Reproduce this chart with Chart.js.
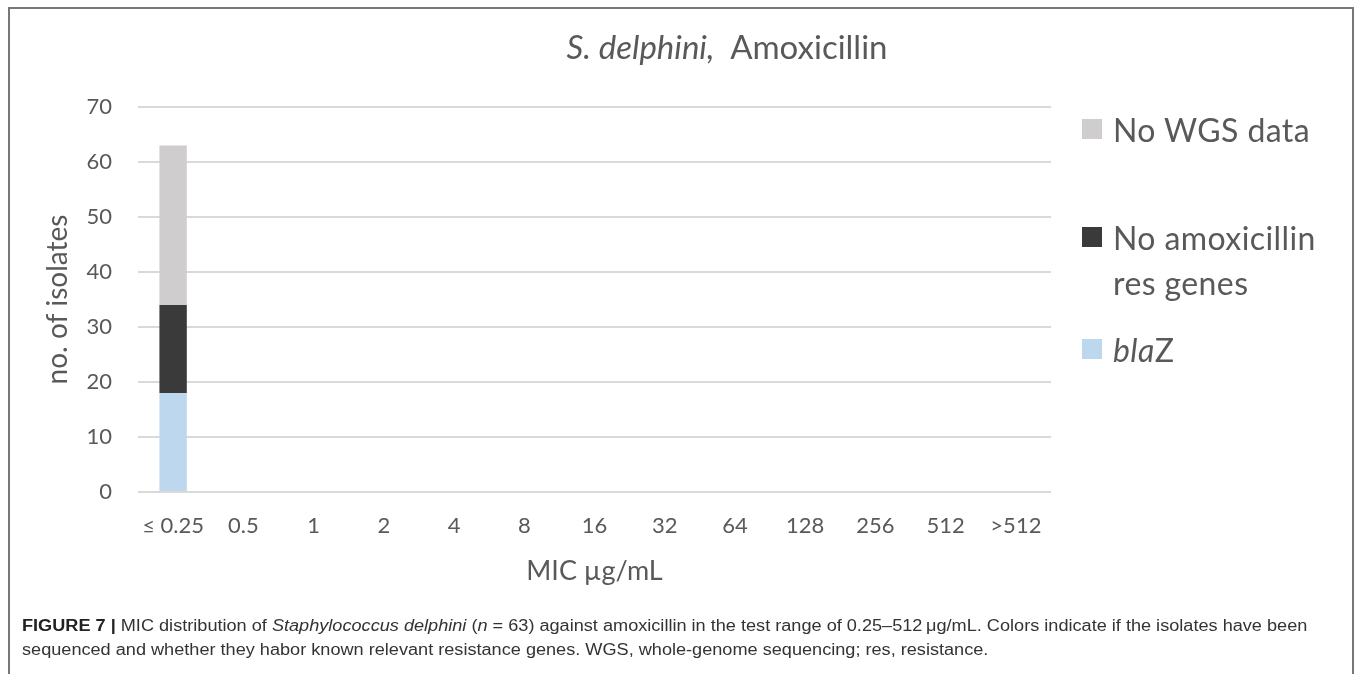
<!DOCTYPE html>
<html>
<head>
<meta charset="utf-8">
<script src="https://cdn.jsdelivr.net/npm/chart.js@4/dist/chart.umd.min.js"></script>
<style>
  html, body { margin: 0; padding: 0; background: #fff; }
  #wrap { position: relative; width: 1360px; height: 674px; overflow: hidden; }
  #frame { position: absolute; left: 8px; top: 7px; width: 1346px; height: 700px; border: 2px solid #777; box-sizing: border-box; }
  #c { position: absolute; left: 0; top: 0; }
  #title { position: absolute; left: 0; width: 1454px; top: 26px; text-align: center; font-family: Lato, "Open Sans", sans-serif; font-size: 33px; color: #595959; }
  .leg { position: absolute; left: 1082px; font-family: Lato, "Open Sans", sans-serif; font-size: 32px; letter-spacing: 0.4px; color: #595959; line-height: 45px; }
  .sw { position: absolute; left: 0; width: 20px; height: 20px; }
  .lt { position: absolute; left: 31px; white-space: nowrap; }
  #cap { position: absolute; left: 22px; top: 614px; white-space: nowrap; font-family: "Liberation Sans", Arial, sans-serif; font-size: 16px; line-height: 24px; color: #333; transform: scaleX(1.133); transform-origin: 0 0; }
</style>
</head>
<body>
<div id="wrap">
  <div id="frame"></div>
  <canvas id="c" width="1360" height="674"></canvas>
  <div id="title"><i>S. delphini,</i>&nbsp; Amoxicillin</div>
  <div id="legend"></div>
  <div id="cap"><b style="color:#222">FIGURE 7 |</b> MIC distribution of <i>Staphylococcus delphini</i> (<i>n</i> = 63) against amoxicillin in the test range of 0.25–512&thinsp;μg/mL. Colors indicate if the isolates have been<br>sequenced and whether they habor known relevant resistance genes. WGS, whole-genome sequencing; res, resistance.</div>
</div>
<script>
const categories = ["\u2264 0.25", "0.5", "1", "2", "4", "8", "16", "32", "64", "128", "256", "512", ">512"];
const blaZ       = [18, 0, 0, 0, 0, 0, 0, 0, 0, 0, 0, 0, 0];
const noAmoxRes  = [16, 0, 0, 0, 0, 0, 0, 0, 0, 0, 0, 0, 0];
const noWGS      = [29, 0, 0, 0, 0, 0, 0, 0, 0, 0, 0, 0, 0];
const yTicks = [0, 10, 20, 30, 40, 50, 60, 70];

const colors = { blaZ: "#BDD7EE", noAmox: "#3A3A3A", noWGS: "#CFCDCD" };

// legend (HTML, mixed italics)
const legendItems = [
  { color: colors.noWGS, html: "No WGS data", top: 107 },
  { color: colors.noAmox, html: "No amoxicillin<br>res genes", top: 215 },
  { color: colors.blaZ, html: "<i>bla</i>Z", top: 327 }
];
const legEl = document.getElementById("legend");
legendItems.forEach(it => {
  const d = document.createElement("div");
  d.className = "leg";
  d.style.top = it.top + "px";
  d.innerHTML = '<div class="sw" style="top:12px;background:' + it.color + '"></div><div class="lt">' + it.html + '</div>';
  legEl.appendChild(d);
});

const font = "Lato, 'Open Sans', sans-serif";
new Chart(document.getElementById("c"), {
  type: "bar",
  data: {
    labels: categories,
    datasets: [
      { label: "blaZ", data: blaZ, backgroundColor: colors.blaZ },
      { label: "No amoxicillin res genes", data: noAmoxRes, backgroundColor: colors.noAmox },
      { label: "No WGS data", data: noWGS, backgroundColor: colors.noWGS }
    ]
  },
  options: {
    responsive: false,
    animation: false,
    devicePixelRatio: 1,
    layout: { padding: { left: 41, right: 309, top: 107, bottom: 87 } },
    datasets: { bar: { barPercentage: 0.39, categoryPercentage: 1.0 } },
    plugins: { legend: { display: false }, tooltip: { enabled: false } },
    scales: {
      x: {
        stacked: true,
        afterFit: (axis) => { axis.height = 95; },
        grid: { display: false, drawTicks: false },
        border: { display: false },
        ticks: { color: "#595959", font: { family: font, size: 22 }, padding: 21, maxRotation: 0, autoSkip: false },
        title: { display: true, text: "MIC µg/mL", color: "#595959", font: { family: font, size: 27 }, padding: { top: 0, bottom: 0 } }
      },
      y: {
        stacked: true,
        min: 0, max: 70,
        afterFit: (axis) => { axis.width = 97; },
        afterBuildTicks: (axis) => { axis.ticks = yTicks.map(v => ({ value: v })); },
        grid: { color: "#D9D9D9", lineWidth: 2, drawTicks: false },
        border: { display: false },
        ticks: { color: "#595959", font: { family: font, size: 22 }, padding: 26 },
        title: { display: true, text: "no. of isolates", color: "#595959", font: { family: font, size: 28 }, padding: { top: 0, bottom: 0 } }
      }
    }
  }
});
</script>
</body>
</html>
